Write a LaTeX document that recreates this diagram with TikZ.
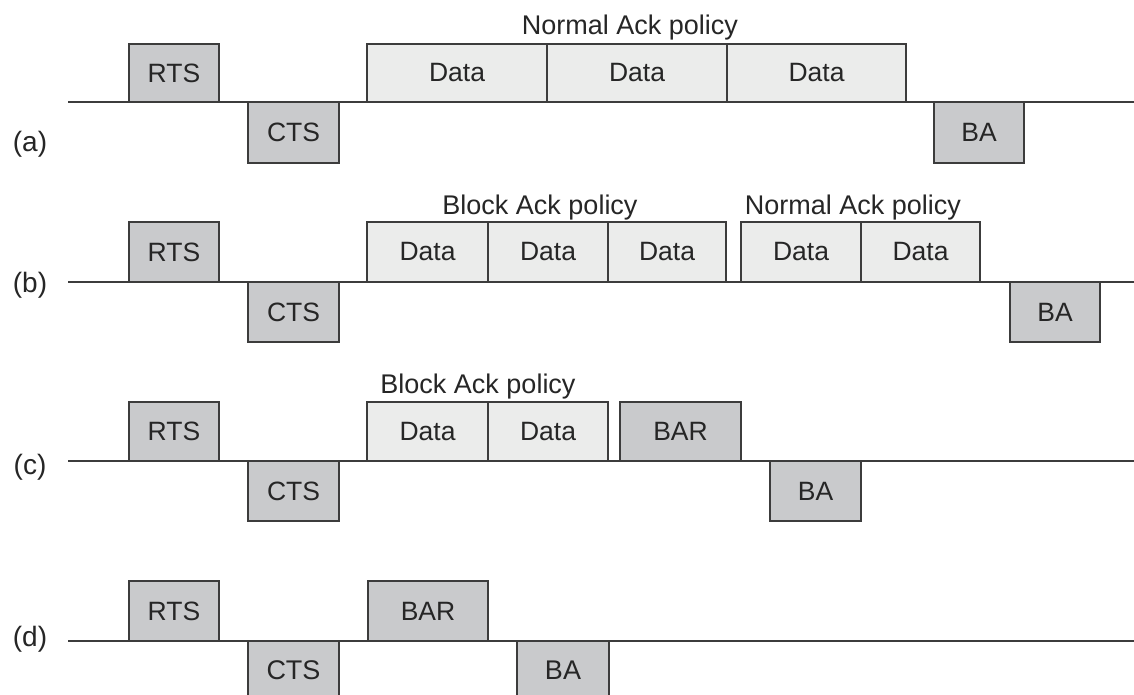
\documentclass[tikz,border=0pt]{standalone}
\usepackage{fontspec}
\setmainfont{Liberation Sans}
\definecolor{edge}{HTML}{3C3C3C}
\definecolor{ctrlfill}{HTML}{C9CACC}
\definecolor{datafill}{HTML}{EBECEB}
\definecolor{txt}{HTML}{262626}
\tikzset{
  frame/.style={draw=edge, line width=1.3pt, inner sep=0pt, outer sep=0pt, text=txt,
    font=\fontsize{26.5}{30}\selectfont, anchor=north west},
  ctrl/.style={frame, fill=ctrlfill},
  databox/.style={frame, fill=datafill},
  axis/.style={draw=edge, line width=1.3pt},
  lbl/.style={text=txt, font=\fontsize{27}{30}\selectfont, inner sep=0pt},
  rowlbl/.style={text=txt, font=\fontsize{28}{30}\selectfont, inner sep=0pt},
}
\newcommand{\bx}[7]{% style, name, x1, y1, x2, y2, text
  \node[#1, minimum width={(#5-#3)*1pt}, minimum height={(#6-#4)*1pt}] (#2) at (#3,#4) {#7};}
\begin{document}
\begin{tikzpicture}[x=1pt,y=-1pt]
\clip (0,0) rectangle (1134,695);
\fill[white] (0,0) rectangle (1134,695);

% ---------- row (a)
\draw[axis] (68,102) -- (1134,102);
\bx{ctrl}{arts}{129}{44}{219}{102}{RTS}
\bx{ctrl}{acts}{248}{102}{339}{163}{CTS}
\bx{databox}{ad1}{367}{44}{547}{102}{Data}
\bx{databox}{ad2}{547}{44}{727}{102}{Data}
\bx{databox}{ad3}{727}{44}{906}{102}{Data}
\draw[edge, line width=2.4pt] (ad2.north east) -- (ad2.south east);
\bx{ctrl}{aba}{934}{102}{1024}{163}{BA}
\node[lbl] (apol) at (630,28) {Normal Ack policy};
\node[rowlbl] (alab) at (30,144) {(a)};

% ---------- row (b)
\draw[axis] (68,282) -- (1134,282);
\bx{ctrl}{brts}{129}{222}{219}{282}{RTS}
\bx{ctrl}{bcts}{248}{282}{339}{342}{CTS}
\bx{databox}{bd1}{367}{222}{488}{282}{Data}
\bx{databox}{bd2}{488}{222}{608}{282}{Data}
\bx{databox}{bd3}{608}{222}{726}{282}{Data}
\draw[edge, line width=2.4pt] (bd3.north east) -- (bd3.south east);
\bx{databox}{bd4}{741}{222}{861}{282}{Data}
\bx{databox}{bd5}{861}{222}{980}{282}{Data}
\bx{ctrl}{bba}{1010}{282}{1100}{342}{BA}
\node[lbl] (bpol1) at (540,208) {Block Ack policy};
\node[lbl] (bpol2) at (853,208) {Normal Ack policy};
\node[rowlbl] (blab) at (30,285) {(b)};

% ---------- row (c)
\draw[axis] (68,461) -- (1134,461);
\bx{ctrl}{crts}{129}{402}{219}{461}{RTS}
\bx{ctrl}{ccts}{248}{461}{339}{521}{CTS}
\draw[edge, line width=2.4pt] (ccts.south west) -- (ccts.south east);
\bx{databox}{cd1}{367}{402}{488}{461}{Data}
\bx{databox}{cd2}{488}{402}{608}{461}{Data}
\bx{ctrl}{cbar}{620}{402}{741}{461}{BAR}
\bx{ctrl}{cba}{770}{461}{861}{521}{BA}
\draw[edge, line width=2.4pt] (cba.south west) -- (cba.south east);
\node[lbl] (cpol) at (478,387) {Block Ack policy};
\node[rowlbl] (clab) at (30,467) {(c)};

% ---------- row (d)
\draw[axis] (68,641) -- (1134,641);
\bx{ctrl}{drts}{129}{581}{219}{641}{RTS}
\bx{ctrl}{dcts}{248}{641}{339}{701}{}
\bx{ctrl}{dbar}{368}{581}{488}{641}{BAR}
\bx{ctrl}{dba}{517}{641}{609}{701}{}
\node[lbl] (dctst) at (293.5,670) {CTS};
\node[lbl] (dbat) at (563,670) {BA};
\node[rowlbl] (dlab) at (30,639) {(d)};
\end{tikzpicture}
\end{document}
